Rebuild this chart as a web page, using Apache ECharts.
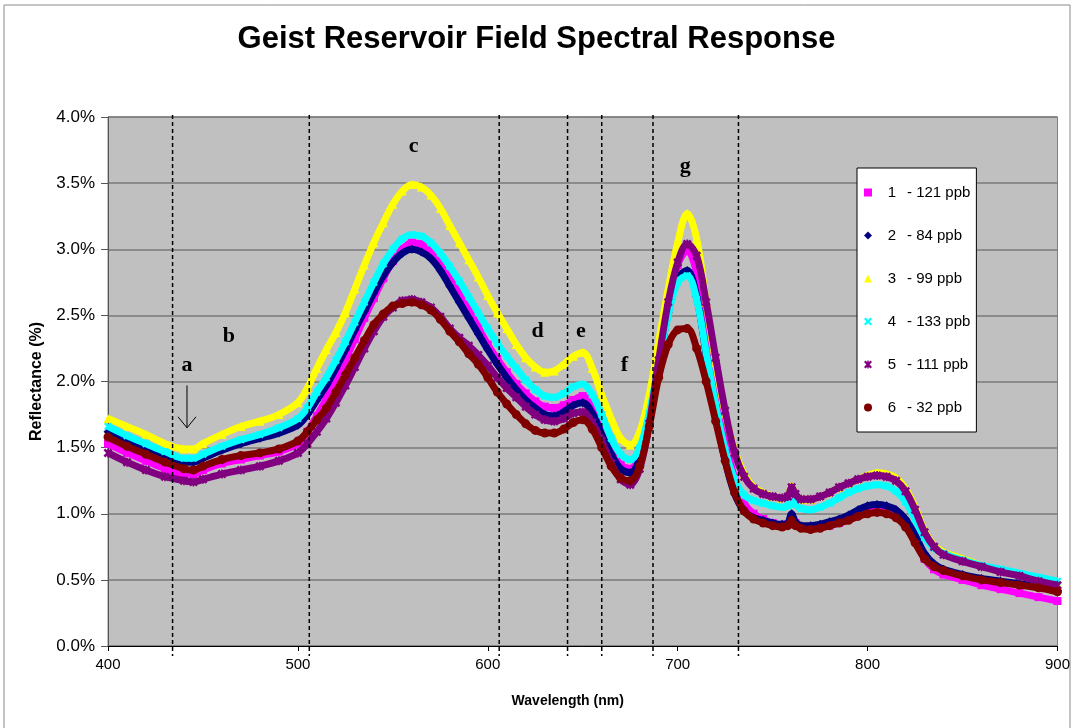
<!DOCTYPE html>
<html>
<head>
<meta charset="utf-8">
<title>Geist Reservoir Field Spectral Response</title>
<script src="https://cdn.jsdelivr.net/npm/echarts@6/dist/echarts.min.js"></script>
<style>
  html, body { margin: 0; padding: 0; background: #fff; }
  #chart { width: 1073px; height: 728px; }
</style>
</head>
<body>
<div id="chart"></div>
<script>
// Wavelengths (nm) shared by every sample spectrum
const wavelengths = [400, 410, 420, 430, 440, 445, 450, 460, 470, 480, 490, 500, 505, 510, 515, 520, 525, 530, 535, 540, 545, 550, 555, 560, 565, 570, 575, 580, 585, 590, 595, 600, 605, 610, 615, 620, 625, 630, 635, 640, 645, 650, 655, 660, 665, 670, 675, 680, 685, 690, 695, 700, 705, 710, 715, 720, 725, 730, 735, 740, 745, 750, 755, 758, 760, 762, 765, 770, 775, 780, 785, 790, 795, 800, 805, 810, 815, 820, 825, 830, 835, 840, 850, 860, 870, 880, 890, 900];

// Reflectance (%) for each sample
const sample1 = [1.53, 1.46, 1.40, 1.34, 1.30, 1.30, 1.33, 1.38, 1.41, 1.44, 1.47, 1.53, 1.62, 1.74, 1.87, 2.01, 2.16, 2.32, 2.48, 2.63, 2.78, 2.91, 3.00, 3.05, 3.04, 2.99, 2.91, 2.81, 2.69, 2.55, 2.41, 2.28, 2.17, 2.07, 1.98, 1.91, 1.85, 1.81, 1.80, 1.82, 1.86, 1.89, 1.81, 1.64, 1.48, 1.37, 1.34, 1.45, 1.72, 2.14, 2.55, 2.88, 2.99, 2.82, 2.40, 1.95, 1.56, 1.27, 1.08, 1.00, 0.96, 0.93, 0.91, 0.92, 0.97, 0.93, 0.90, 0.89, 0.90, 0.91, 0.93, 0.96, 0.99, 1.02, 1.04, 1.03, 1.00, 0.93, 0.80, 0.66, 0.58, 0.54, 0.50, 0.46, 0.43, 0.40, 0.37, 0.34];
const sample2 = [1.62, 1.55, 1.49, 1.43, 1.39, 1.39, 1.42, 1.48, 1.53, 1.57, 1.61, 1.67, 1.75, 1.86, 1.97, 2.10, 2.24, 2.39, 2.53, 2.67, 2.80, 2.90, 2.97, 3.00, 2.98, 2.93, 2.84, 2.72, 2.60, 2.48, 2.36, 2.24, 2.13, 2.03, 1.94, 1.86, 1.80, 1.75, 1.74, 1.77, 1.82, 1.84, 1.76, 1.60, 1.45, 1.34, 1.31, 1.42, 1.70, 2.12, 2.52, 2.78, 2.84, 2.64, 2.20, 1.76, 1.40, 1.15, 1.02, 0.97, 0.95, 0.93, 0.92, 0.93, 1.00, 0.94, 0.91, 0.91, 0.92, 0.94, 0.96, 0.99, 1.03, 1.06, 1.07, 1.06, 1.03, 0.96, 0.84, 0.70, 0.62, 0.58, 0.54, 0.51, 0.49, 0.47, 0.45, 0.42];
const sample3 = [1.72, 1.66, 1.60, 1.53, 1.49, 1.49, 1.53, 1.60, 1.66, 1.70, 1.75, 1.84, 1.95, 2.10, 2.24, 2.37, 2.52, 2.70, 2.88, 3.05, 3.20, 3.34, 3.44, 3.49, 3.47, 3.41, 3.31, 3.18, 3.05, 2.92, 2.79, 2.65, 2.52, 2.40, 2.28, 2.18, 2.11, 2.07, 2.08, 2.13, 2.19, 2.22, 2.10, 1.90, 1.72, 1.57, 1.52, 1.62, 1.90, 2.30, 2.70, 3.05, 3.27, 3.08, 2.60, 2.14, 1.76, 1.48, 1.30, 1.20, 1.16, 1.13, 1.12, 1.13, 1.21, 1.15, 1.11, 1.11, 1.13, 1.16, 1.20, 1.23, 1.26, 1.29, 1.31, 1.30, 1.27, 1.19, 1.05, 0.87, 0.76, 0.71, 0.66, 0.61, 0.57, 0.54, 0.50, 0.47];
const sample4 = [1.66, 1.59, 1.53, 1.47, 1.42, 1.42, 1.45, 1.51, 1.56, 1.60, 1.65, 1.72, 1.80, 1.92, 2.03, 2.16, 2.30, 2.45, 2.60, 2.75, 2.89, 3.00, 3.08, 3.11, 3.10, 3.05, 2.97, 2.87, 2.76, 2.64, 2.52, 2.40, 2.29, 2.19, 2.10, 2.01, 1.94, 1.89, 1.88, 1.91, 1.96, 1.98, 1.90, 1.75, 1.57, 1.45, 1.41, 1.50, 1.76, 2.14, 2.50, 2.75, 2.80, 2.62, 2.22, 1.82, 1.48, 1.26, 1.14, 1.10, 1.08, 1.06, 1.05, 1.06, 1.11, 1.07, 1.04, 1.03, 1.05, 1.08, 1.12, 1.16, 1.19, 1.21, 1.22, 1.21, 1.17, 1.09, 0.96, 0.82, 0.74, 0.70, 0.65, 0.61, 0.58, 0.55, 0.52, 0.49];
const sample5 = [1.46, 1.39, 1.33, 1.28, 1.25, 1.24, 1.26, 1.30, 1.33, 1.36, 1.40, 1.46, 1.53, 1.62, 1.72, 1.84, 1.97, 2.11, 2.25, 2.38, 2.49, 2.56, 2.61, 2.62, 2.60, 2.56, 2.49, 2.40, 2.33, 2.27, 2.20, 2.12, 2.03, 1.95, 1.88, 1.81, 1.75, 1.71, 1.70, 1.72, 1.76, 1.77, 1.69, 1.55, 1.38, 1.26, 1.22, 1.34, 1.68, 2.16, 2.60, 2.90, 3.04, 2.95, 2.60, 2.18, 1.78, 1.46, 1.28, 1.19, 1.15, 1.13, 1.12, 1.13, 1.20, 1.15, 1.11, 1.11, 1.13, 1.16, 1.20, 1.23, 1.26, 1.28, 1.29, 1.28, 1.25, 1.17, 1.03, 0.86, 0.75, 0.69, 0.64, 0.60, 0.56, 0.53, 0.49, 0.46];
const sample6 = [1.58, 1.51, 1.45, 1.39, 1.34, 1.33, 1.36, 1.41, 1.44, 1.46, 1.49, 1.55, 1.62, 1.71, 1.80, 1.92, 2.05, 2.18, 2.31, 2.43, 2.51, 2.57, 2.59, 2.60, 2.58, 2.54, 2.47, 2.38, 2.30, 2.21, 2.13, 2.03, 1.92, 1.83, 1.75, 1.68, 1.63, 1.61, 1.61, 1.64, 1.69, 1.71, 1.64, 1.50, 1.36, 1.27, 1.25, 1.36, 1.66, 2.03, 2.28, 2.39, 2.40, 2.25, 2.00, 1.70, 1.40, 1.16, 1.02, 0.96, 0.93, 0.91, 0.90, 0.91, 0.95, 0.91, 0.89, 0.88, 0.89, 0.91, 0.93, 0.95, 0.98, 1.00, 1.01, 1.00, 0.97, 0.90, 0.78, 0.66, 0.60, 0.57, 0.53, 0.50, 0.48, 0.46, 0.44, 0.41];

// Legend labels: sample number and measured concentration
const sampleIds = ['1', '2', '3', '4', '5', '6'];
const concentrations = ['121 ppb', '84 ppb', '99 ppb', '133 ppb', '111 ppb', '32 ppb'];

// Y axis ticks (%) and X axis ticks (nm)
const yTicks = [0.0, 0.5, 1.0, 1.5, 2.0, 2.5, 3.0, 3.5, 4.0];
const xTicks = [400, 500, 600, 700, 800, 900];

// Dashed band boundaries (nm)
const bandEdges = [434, 506, 606, 642, 660, 687, 732];

// Region letters: [wavelength, reflectance, letter]
const regionLabels = [
  [441.6, 2.12, 'a'],
  [463.7, 2.34, 'b'],
  [561.0, 3.78, 'c'],
  [626.3, 2.38, 'd'],
  [649.0, 2.38, 'e'],
  [672.0, 2.12, 'f'],
  [704.0, 3.63, 'g']
];

// Pointer arrow under "a": [wavelength, from, to]
const pointerArrow = [[441.6, 1.97, 1.65]];

const allSamples = [sample1, sample2, sample3, sample4, sample5, sample6];
const colors = ['#FF00FF', '#000080', '#FFFF00', '#00FFFF', '#800080', '#800000'];
const crossPath = 'path://M0,2L2,0L5,3L8,0L10,2L7,5L10,8L8,10L5,7L2,10L0,8L3,5Z';
const starPath = 'path://M0,2L2,0L5,3L8,0L10,2L7,5L10,8L8,10L5,7L2,10L0,8L3,5Z M4.1,0L5.9,0L5.9,10L4.1,10Z';
const symbols = ['rect', 'diamond', 'triangle', crossPath, starPath, 'circle'];
const symbolSizes = [8, 9, 9, 8, 9, 9];

const baseFont = 'Liberation Sans, Arial, sans-serif';
const seriesNames = sampleIds.map((id, i) => id + ' - ' + concentrations[i]);

const sampleSeries = allSamples.map((vals, i) => ({
  name: seriesNames[i],
  type: 'line',
  data: wavelengths.map((w, j) => [w, vals[j]]),
  smooth: 0.35,
  showSymbol: true,
  showAllSymbol: true,
  symbol: symbols[i],
  symbolSize: symbolSizes[i],
  itemStyle: { color: colors[i] },
  lineStyle: { color: colors[i], width: 7 },
  z: 3 + i
}));

const chart = echarts.init(document.getElementById('chart'), null, { renderer: 'canvas' });

const option = {
  animation: false,
  backgroundColor: '#ffffff',
  title: {
    text: 'Geist Reservoir Field Spectral Response',
    left: 'center',
    top: 19,
    textStyle: { fontFamily: baseFont, fontSize: 31, fontWeight: 'bold', color: '#000' }
  },
  grid: {
    left: 108, right: 15, top: 117, bottom: 82,
    show: true, backgroundColor: '#C0C0C0', borderColor: '#808080', borderWidth: 1
  },
  legend: {
    orient: 'vertical',
    left: 857, top: 168,
    padding: [17, 6, 17, 7],
    itemGap: 28,
    itemWidth: 8, itemHeight: 8,
    backgroundColor: '#ffffff',
    borderColor: '#000000', borderWidth: 1,
    data: seriesNames.map((n, i) => ({
      name: n,
      icon: symbols[i],
      itemStyle: { color: colors[i] }
    })),
    formatter: function (name) {
      const i = seriesNames.indexOf(name);
      return '{n|' + sampleIds[i] + '}{t|- ' + concentrations[i] + '}';
    },
    textStyle: {
      fontFamily: baseFont, fontSize: 15, color: '#000',
      rich: {
        n: { width: 30, align: 'center', fontSize: 15, fontFamily: baseFont, color: '#000' },
        t: { fontSize: 15, fontFamily: baseFont, color: '#000' }
      }
    }
  },
  xAxis: {
    type: 'value',
    min: xTicks[0], max: xTicks[xTicks.length - 1], interval: 100,
    name: 'Wavelength (nm)', nameLocation: 'middle', nameGap: 48,
    nameTextStyle: { fontFamily: baseFont, fontSize: 14, fontWeight: 'bold', color: '#000', padding: [0, 30, 0, 0] },
    axisLine: { show: true, lineStyle: { color: '#000', width: 1 } },
    axisTick: { show: true, length: 5, lineStyle: { color: '#000' } },
    axisLabel: { margin: 11, fontFamily: baseFont, fontSize: 15, color: '#000' },
    splitLine: { show: false }
  },
  yAxis: {
    type: 'value',
    min: yTicks[0], max: yTicks[yTicks.length - 1], interval: 0.5,
    name: 'Reflectance (%)', nameLocation: 'middle', nameGap: 63,
    nameTextStyle: { fontFamily: baseFont, fontSize: 16, fontWeight: 'bold', color: '#000' },
    axisLine: { show: true, lineStyle: { color: '#555', width: 1 } },
    axisTick: { show: true, length: 7, lineStyle: { color: '#555' } },
    axisLabel: {
      margin: 13, fontFamily: baseFont, fontSize: 17, color: '#000',
      formatter: v => v.toFixed(1) + '%'
    },
    splitLine: { show: true, lineStyle: { color: '#7a7a7a', width: 1.5 } }
  },
  graphic: [{
    type: 'rect',
    shape: { x: 4, y: 5, width: 1066, height: 740 },
    style: { fill: 'none', stroke: '#8a8a8a', lineWidth: 1 },
    silent: true, z: -10
  }],
  series: sampleSeries.concat([
    {
      name: 'band edges',
      type: 'custom',
      data: bandEdges.map(w => [w, 0]),
      z: 20,
      silent: true,
      renderItem: function (params, api) {
        const w = api.value(0);
        const top = api.coord([w, yTicks[yTicks.length - 1]]);
        const bottom = api.coord([w, yTicks[0]]);
        return {
          type: 'line',
          shape: { x1: top[0], y1: top[1] - 2, x2: bottom[0], y2: bottom[1] + 10 },
          style: { stroke: '#000', lineWidth: 1.5, lineDash: [4, 3] }
        };
      }
    },
    {
      name: 'region letters',
      type: 'custom',
      data: regionLabels,
      z: 21,
      silent: true,
      renderItem: function (params, api) {
        const p = api.coord([api.value(0), api.value(1)]);
        return {
          type: 'text',
          x: p[0], y: p[1],
          style: {
            text: regionLabels[params.dataIndex][2],
            font: 'bold 22px "Liberation Serif", "Times New Roman", serif',
            fill: '#000',
            align: 'center', verticalAlign: 'middle'
          }
        };
      }
    },
    {
      name: 'pointer',
      type: 'custom',
      data: pointerArrow,
      z: 21,
      silent: true,
      renderItem: function (params, api) {
        const a = api.coord([api.value(0), api.value(1)]);
        const b = api.coord([api.value(0), api.value(2)]);
        return {
          type: 'group',
          children: [
            { type: 'line', shape: { x1: a[0], y1: a[1], x2: b[0], y2: b[1] }, style: { stroke: '#000', lineWidth: 1 } },
            { type: 'polyline', shape: { points: [[b[0] - 9, b[1] - 11], [b[0], b[1]], [b[0] + 9, b[1] - 11]] }, style: { stroke: '#000', lineWidth: 1, fill: 'none' } }
          ]
        };
      }
    }
  ])
};

chart.setOption(option);
</script>
</body>
</html>
